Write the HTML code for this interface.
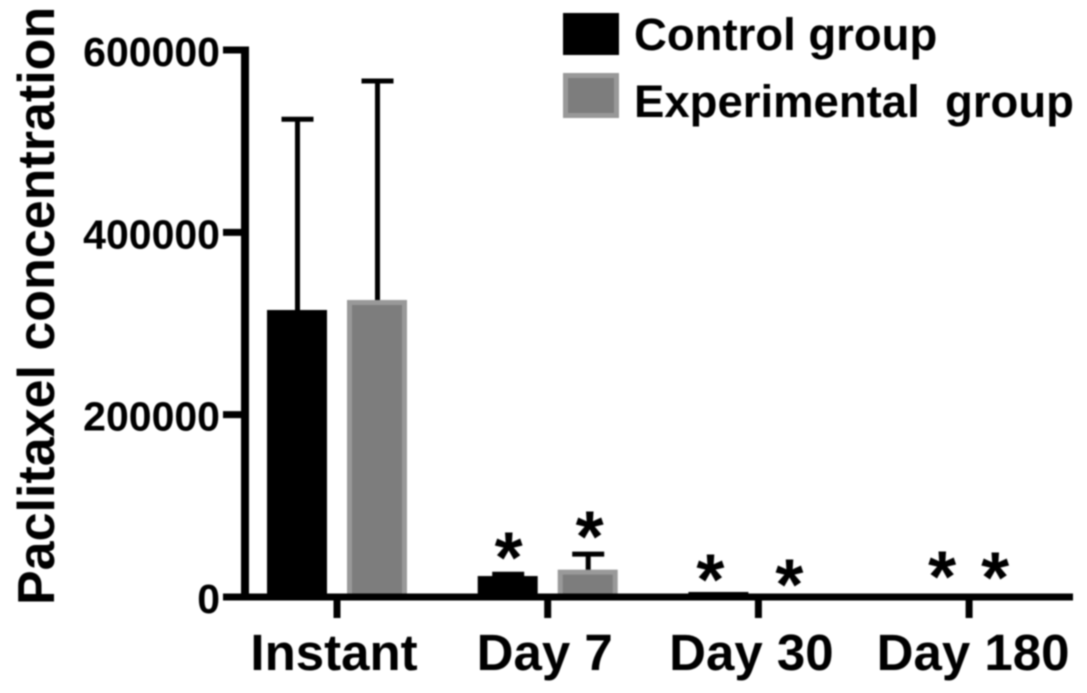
<!DOCTYPE html>
<html>
<head>
<meta charset="utf-8">
<style>
html,body{margin:0;padding:0;background:#fff;width:1087px;height:693px;overflow:hidden}
svg{display:block;filter:blur(0.7px)}
text{font-family:"Liberation Sans",sans-serif;font-weight:bold;fill:#000}
</style>
</head>
<body>
<svg id="chart" width="1087" height="693" viewBox="0 0 1087 693" xmlns="http://www.w3.org/2000/svg">
<text transform="translate(54,605) rotate(-90)" font-size="52">Paclitaxel concentration</text>
<g>
<rect x="563" y="13" width="56" height="42" fill="#000"/>
<text x="634" y="50" font-size="45.5">Control group</text>
<rect x="565.5" y="75.5" width="51" height="40" fill="#7d7d7d" stroke="#999" stroke-width="5"/>
<text x="634" y="117" font-size="45.5" xml:space="preserve">Experimental  group</text>
</g>
</svg>
<script>
var categories = ["Instant", "Day 7", "Day 30", "Day 180"];
var controlValues = [314800, 23000, 5500, 0];
var controlErrorTops = [524000, 25000, 5500, 0];
var experimentalValues = [325800, 30000, 0, 0];
var experimentalErrorTops = [566000, 47000, 0, 0];
var controlStarValues = [null, 53700, 29600, 32900];
var experimentalStarValues = [null, 76800, 24100, 31800];
var yTickValues = [0, 200000, 400000, 600000];

var svg = document.getElementById('chart');
var NS = 'http://www.w3.org/2000/svg';
function yScale(v) { return 597 - v / 600000 * 547; }
function xScale(i) { return 337 + i * 210.7; }
function make(tag, attrs, parent) {
  var el = document.createElementNS(NS, tag);
  for (var k in attrs) el.setAttribute(k, attrs[k]);
  (parent || svg).appendChild(el);
  return el;
}

function drawBar(i, offset, value, errorTop, fill, edge, seriesName) {
  var cx = xScale(i) + offset;
  var top = yScale(value);
  if (errorTop > value) {
    var stem = make('line', {x1: cx + 0.5, x2: cx + 0.5, y1: top + 5, y2: yScale(errorTop), stroke: '#000', 'stroke-width': 5});
    
    
    var cap = make('line', {x1: cx - 15.5, x2: cx + 16.5, y1: yScale(errorTop), y2: yScale(errorTop), stroke: '#000', 'stroke-width': 5});
    
    
  }
  if (value <= 0) return;
  var inset = edge === fill ? 0 : 2.5;
  var h = Math.max(597 - top - inset, 0.5);
  var bar = make('rect', {x: cx - 30 + inset, y: top + inset, width: 60 - 2 * inset, height: h, fill: fill, stroke: edge, 'stroke-width': inset * 2});
  
  
}

function drawStar(i, offset, value, seriesName) {
  if (value === null) return;
  var star = make('text', {x: xScale(i) + offset, y: yScale(value) + 34.5, 'font-size': 72, 'text-anchor': 'middle'});
  star.textContent = '*';
  
  
}

var starOffsets = [[0, 0], [-39, 42], [-48, 31], [-27, 26]];
var labelOffsets = [-3, -3, -7, 4];

categories.forEach(function (name, i) {
  drawBar(i, -40, controlValues[i], controlErrorTops[i], '#000', '#000', 'control');
  drawBar(i, 40, experimentalValues[i], experimentalErrorTops[i], '#7d7d7d', '#999', 'experimental');
  drawStar(i, starOffsets[i][0], controlStarValues[i], 'control');
  drawStar(i, starOffsets[i][1], experimentalStarValues[i], 'experimental');

  var tick = make('line', {x1: xScale(i), x2: xScale(i), y1: 597, y2: 618, stroke: '#000', 'stroke-width': 7});
  
  

  var label = make('text', {x: xScale(i) + labelOffsets[i], y: 670, 'font-size': 51, 'text-anchor': 'middle'});
  label.textContent = name;
  
  
});

yTickValues.forEach(function (v, i) {
  var tick = make('line', {x1: 223, x2: 248, y1: yScale(v), y2: yScale(v), stroke: '#000', 'stroke-width': 7});
  
  
  var label = make('text', {x: 220, y: yScale(v) + 16, 'font-size': 41, 'text-anchor': 'end'});
  label.textContent = String(v);
  
  
});

var yAxis = make('line', {x1: 245, x2: 245, y1: yScale(600000) - 3.5, y2: 600, stroke: '#000', 'stroke-width': 8});


var xAxis = make('line', {x1: 223, x2: 1073, y1: 597, y2: 597, stroke: '#000', 'stroke-width': 7});


</script>
</body>
</html>
